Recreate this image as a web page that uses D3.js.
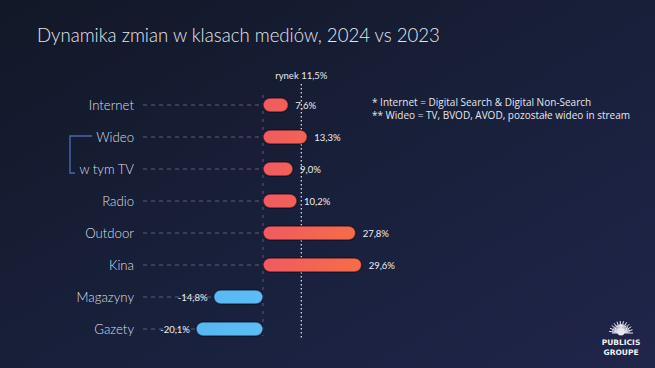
<!DOCTYPE html>
<html><head><meta charset="utf-8">
<script src="https://cdn.jsdelivr.net/npm/d3@7"></script>
<style>html,body{margin:0;padding:0;background:#141a2d;overflow:hidden}</style>
</head><body>
<svg id="c" width="655" height="368"></svg>
<script>
const categories = ["Internet","Wideo","w tym TV","Radio","Outdoor","Kina","Magazyny","Gazety"];
const values = [7.6, 13.3, 9.0, 10.2, 27.8, 29.6, -14.8, -20.1];
const valueLabels = ["7,6%","13,3%","9,0%","10,2%","27,8%","29,6%","-14,8%","-20,1%"];
const marketValue = 11.5;
const marketLabel = "rynek 11,5%";
const title = "Dynamika zmian w klasach mediów, 2024 vs 2023";
const notes = ["* Internet = Digital Search & Digital Non-Search", "** Wideo = TV, BVOD, AVOD, pozostałe wideo in stream"];

const svg = d3.select("#c");
const defs = svg.append("defs");
const bg = defs.append("linearGradient").attr("id","bg").attr("x1","0").attr("y1","0").attr("x2","1").attr("y2","1");
bg.append("stop").attr("offset","0").attr("stop-color","#121827");
bg.append("stop").attr("offset","0.55").attr("stop-color","#19203b");
bg.append("stop").attr("offset","1").attr("stop-color","#20254a");
svg.append("rect").attr("width",655).attr("height",368).attr("fill","url(#bg)");

const x = d3.scaleLinear().domain([0, 30]).range([263, 363]);
const y = d3.scaleBand().domain(categories).range([89, 345]).paddingInner(0.56).paddingOuter(0.28);

const gR = defs.append("linearGradient").attr("id","gr").attr("gradientUnits","userSpaceOnUse")
  .attr("x1",x(0)).attr("x2",x(30)).attr("y1",0).attr("y2",0);
gR.append("stop").attr("offset","0").attr("stop-color","#f25a5f");
gR.append("stop").attr("offset","1").attr("stop-color","#f76d46");
const gB = defs.append("linearGradient").attr("id","gb").attr("gradientUnits","userSpaceOnUse")
  .attr("x1",x(-20)).attr("x2",x(0)).attr("y1",0).attr("y2",0);
gB.append("stop").attr("offset","0").attr("stop-color","#55b8f2");
gB.append("stop").attr("offset","1").attr("stop-color","#5fbcf5");

svg.append("text").attr("x",37).attr("y",42).text(title)
  .attr("font-family","Lato, 'Open Sans', sans-serif").attr("font-weight",300)
  .attr("font-size",18.6).attr("fill","#e4e6ee");

const rowC = d => y(d) + y.bandwidth()/2;
svg.append("g").selectAll("line").data(categories).join("line")
  .attr("x1",143).attr("x2",x(0)).attr("y1",rowC).attr("y2",rowC)
  .attr("stroke","#5b6078").attr("stroke-width",1).attr("stroke-dasharray","4,4");

svg.append("line").attr("x1",x(0)).attr("x2",x(0)).attr("y1",95).attr("y2",336)
  .attr("stroke","#4d5470").attr("stroke-width",1.2).attr("stroke-dasharray","3,5");

svg.append("line").attr("x1",x(marketValue)).attr("x2",x(marketValue)).attr("y1",84).attr("y2",340)
  .attr("stroke","#d8dae4").attr("stroke-width",1.3).attr("stroke-dasharray","1.5,2.5");
svg.append("text").attr("x",x(marketValue)).attr("y",79).attr("text-anchor","middle")
  .text(marketLabel).attr("font-family","Lato, sans-serif").attr("font-size",9.5).attr("fill","#e4e6ee");

svg.append("g").selectAll("text").data(categories).join("text")
  .attr("x",134).attr("y",d => rowC(d)+4.5).attr("text-anchor","end").text(d=>d)
  .attr("font-family","Lato, 'Open Sans', sans-serif").attr("font-weight",300)
  .attr("font-size",13.2).attr("fill","#dcdfe8");

const yW = rowC("Wideo"), yT = rowC("w tym TV");
svg.append("path").attr("d",`M92,${yW-1}H70V${yT+4}H75`).attr("fill","none")
  .attr("stroke","#4b67ad").attr("stroke-width",1.4);

const data = categories.map((c,i)=>({c, v:values[i], l:valueLabels[i]}));
const bh = 14;
svg.append("g").selectAll("rect").data(data).join("rect")
  .attr("x",d => x(Math.min(0,d.v))).attr("width",d => Math.abs(x(d.v)-x(0)))
  .attr("y",d => rowC(d.c)-bh/2).attr("height",bh).attr("rx",7).attr("ry",7)
  .attr("fill",d => d.v>=0 ? "url(#gr)" : "url(#gb)")
  .attr("stroke","rgba(10,10,25,0.55)").attr("stroke-width",1.5);

svg.append("g").selectAll("text").data(data).join("text")
  .attr("x",d => d.v>=0 ? x(d.v)+7 : x(d.v)-6)
  .attr("y",d => rowC(d.c)+3.5)
  .attr("text-anchor",d => d.v>=0 ? "start":"end").text(d=>d.l)
  .attr("font-family","Lato, sans-serif").attr("font-size",9.5).attr("fill","#eceef4");

svg.append("g").selectAll("text").data(notes).join("text")
  .attr("x",372).attr("y",(d,i)=>106+i*12.5).text(d=>d)
  .attr("font-family","'Open Sans', Lato, sans-serif").attr("font-size",10).attr("fill","#e4e6ee");

const lg = svg.append("g").attr("transform","translate(621,333)");
d3.range(24).forEach(i=>{
  const a = Math.PI + i*Math.PI/23;
  const r1 = 3, r2 = 9 + (i%2)*3;
  lg.append("line").attr("x1",r1*Math.cos(a)).attr("y1",r1*Math.sin(a))
    .attr("x2",r2*Math.cos(a)).attr("y2",r2*Math.sin(a))
    .attr("stroke","#e8e8ee").attr("stroke-width",1);
});
lg.append("circle").attr("r",3.5).attr("cy",-1).attr("fill","#e8e8ee");
lg.append("text").attr("y",12).attr("text-anchor","middle").text("PUBLICIS")
  .attr("font-family","'DejaVu Sans', sans-serif").attr("font-weight","bold").attr("font-size",7.5).attr("fill","#f0f0f4");
lg.append("text").attr("y",22).attr("text-anchor","middle").text("GROUPE")
  .attr("font-family","'DejaVu Sans', sans-serif").attr("font-weight","bold").attr("font-size",7.5).attr("fill","#f0f0f4");
</script>
</body></html>
